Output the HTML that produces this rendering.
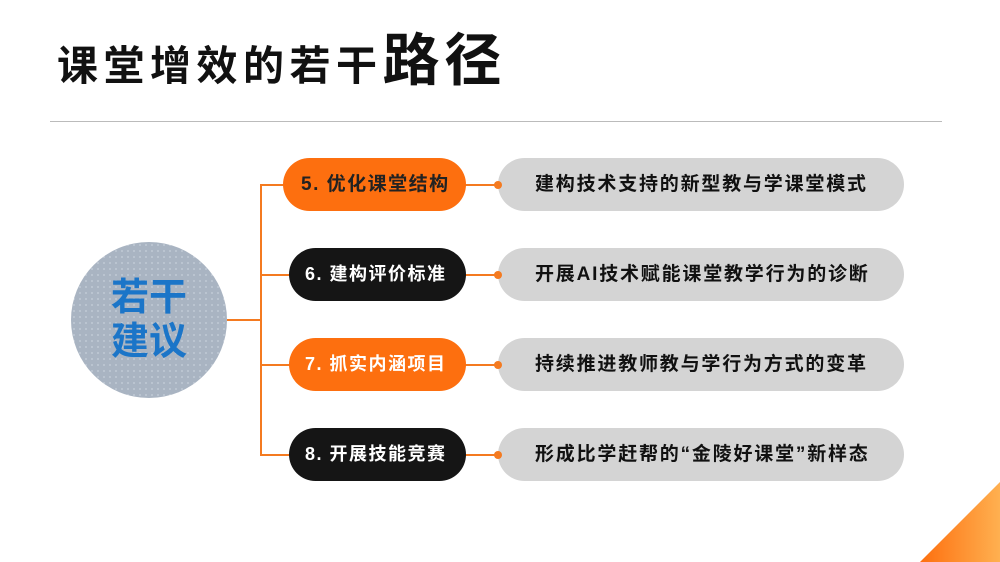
<!DOCTYPE html>
<html><head><meta charset="utf-8"><style>
body{margin:0;width:1000px;height:562px;background:#fff;position:relative;overflow:hidden;font-family:"Liberation Sans","Noto Sans CJK SC",sans-serif;font-weight:bold}
.t{position:absolute;left:57px;top:26px;font-size:41px;letter-spacing:5.5px;color:#111;white-space:nowrap;line-height:70px}
.t span{font-size:57px;letter-spacing:5px}
.hr{position:absolute;left:50px;top:121px;width:892px;height:1px;background:#bbb}
.c{position:absolute;left:71px;top:242px;width:156px;height:156px;border-radius:50%;background:#a9b4c2;background-image:radial-gradient(#bcc5d1 1px,transparent 1.2px);background-size:6px 6px;color:#1b75c8;font-size:38px;line-height:44px;text-align:center;display:flex;align-items:center;justify-content:center}
.l{position:absolute;background:#f47a20}
.p{position:absolute;height:53px;border-radius:27px;color:#fff;font-size:18px;letter-spacing:1.5px;line-height:53px;box-sizing:border-box;padding-left:16px;white-space:nowrap}
.g{position:absolute;left:498px;width:406px;height:53px;border-radius:27px;background:#d4d4d4;color:#111;font-size:19px;letter-spacing:1.8px;line-height:53px;padding-left:37px;box-sizing:border-box;white-space:nowrap}
.d{position:absolute;left:494px;width:8px;height:8px;border-radius:50%;background:#f47a20}
</style></head><body>
<div class="t">课堂增效的若干<span>路径</span></div>
<div class="hr"></div>
<div class="c">若干<br>建议</div>
<div class="l" style="left:227px;top:319px;width:34px;height:2px"></div>
<div class="l" style="left:260px;top:184px;width:2px;height:272px"></div>
<div class="l" style="left:260px;top:184px;width:25px;height:2px"></div>
<div class="l" style="left:260px;top:274px;width:30px;height:2px"></div>
<div class="l" style="left:260px;top:364px;width:30px;height:2px"></div>
<div class="l" style="left:260px;top:454px;width:30px;height:2px"></div>
<div class="l" style="left:465px;top:184px;width:34px;height:2px"></div>
<div class="l" style="left:465px;top:274px;width:34px;height:2px"></div>
<div class="l" style="left:465px;top:364px;width:34px;height:2px"></div>
<div class="l" style="left:465px;top:454px;width:34px;height:2px"></div>
<div class="p" style="left:283px;top:158px;width:183px;background:#fd6f0f;color:#222;padding-left:18px;font-size:19px">5. 优化课堂结构</div>
<div class="p" style="left:289px;top:248px;width:177px;background:#151515">6. 建构评价标准</div>
<div class="p" style="left:289px;top:338px;width:177px;background:#fd6f0f">7. 抓实内涵项目</div>
<div class="p" style="left:289px;top:428px;width:177px;background:#151515">8. 开展技能竞赛</div>
<div class="g" style="top:158px">建构技术支持的新型教与学课堂模式</div>
<div class="g" style="top:248px">开展AI技术赋能课堂教学行为的诊断</div>
<div class="g" style="top:338px">持续推进教师教与学行为方式的变革</div>
<div class="g" style="top:428px">形成比学赶帮的“金陵好课堂”新样态</div>
<div class="d" style="top:181px"></div>
<div class="d" style="top:271px"></div>
<div class="d" style="top:361px"></div>
<div class="d" style="top:451px"></div>
<svg style="position:absolute;left:0;top:0" width="1000" height="562"><defs><linearGradient id="o" x1="0" x2="1"><stop offset="0" stop-color="#fd6f0f"/><stop offset="1" stop-color="#ffb050"/></linearGradient></defs><polygon points="920,562 1000,482 1000,562" fill="url(#o)"/></svg>
</body></html>
